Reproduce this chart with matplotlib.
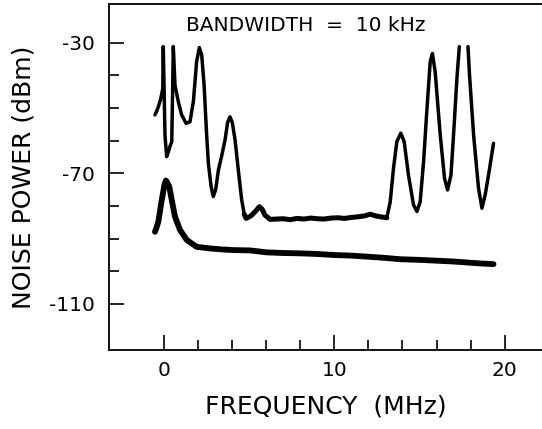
import numpy as np
import matplotlib
matplotlib.use("Agg")
import matplotlib.pyplot as plt

# Upper trace (NaN marks where the trace runs off the top of the plot)
upper_f = [-0.55, -0.45, -0.35, -0.2, -0.09, -0.06, 0.04, 0.14, 0.24, 0.35, 0.44, 0.53,
           0.63, 0.82, 1.02, 1.28, 1.51, 1.71, 1.9, 2.06, 2.2, 2.34, 2.49, 2.59, 2.75, 2.88,
           3.02, 3.18, 3.38, 3.57, 3.72, 3.86, 4.0, 4.16, 4.35, 4.55, 4.7, 4.81, 5.0, 5.14,
           5.38, 5.59, 5.75, 5.92, 6.22,
           6.6, 7.0, 7.4, 7.8, 8.2, 8.6, 9.0, 9.4, 9.8, 10.2, 10.6, 11.0, 11.4, 11.8, 12.1,
           12.4, 12.69, 13.08, 13.28, 13.47, 13.67, 13.9, 14.1, 14.35, 14.65, 14.85, 15.04,
           15.24, 15.44, 15.63, 15.76, 15.92, 16.22, 16.47, 16.65, 16.85, 17.0, 17.2, 17.34,
           np.nan,
           17.85, 17.94, 18.18, 18.47, 18.67, 18.86, 19.12, 19.35]
upper_db = [-52.1, -51.0, -49.6, -47.0, -44.0, -31.2, -58.3, -64.9, -63.4, -61.5, -60.3, -31.2,
            -43.0, -48.0, -52.1, -54.7, -54.2, -48.0, -35.8, -31.5, -33.8, -43.0, -58.3, -66.9, -74.0, -77.1,
            -75.0, -69.0, -64.5, -59.8, -54.5, -52.7, -54.5, -59.8, -69.0, -78.2, -82.5, -83.8, -83.3, -82.8,
            -81.5, -80.2, -81.0, -82.8, -84.1,
            -84.0, -83.9, -84.2, -83.8, -84.0, -83.7, -83.9, -84.0, -83.7, -83.6, -83.8, -83.5, -83.3, -83.0, -82.5,
            -83.0, -83.3, -83.6, -78.7, -68.5, -60.3, -57.7, -60.3, -70.5, -79.7, -81.7, -78.7,
            -66.4, -50.1, -35.8, -33.3, -38.9, -58.3, -71.5, -75.1, -70.5, -58.3, -40.9, -31.2,
            np.nan,
            -31.2, -39.9, -58.3, -74.6, -80.7, -76.6, -68.5, -60.8]

# Lower trace
lower_f = [-0.55, -0.45, -0.35, -0.15, 0.02, 0.1, 0.29, 0.44, 0.63, 0.92, 1.32, 1.9, 2.69,
           3.4, 4.06, 5.04, 6.02, 7.0, 7.98, 9.0, 9.94, 11.0, 11.9, 13.0, 13.86, 15.0, 15.82,
           17.0, 17.78, 18.6, 19.35]
lower_db = [-87.9, -86.5, -84.8, -78.2, -73.2, -72.2, -74.0, -78.2, -83.3, -87.3, -90.4, -92.5, -93.0,
            -93.3, -93.5, -93.6, -94.2, -94.4, -94.5, -94.7, -95.0, -95.2, -95.5, -95.9, -96.3, -96.5, -96.7,
            -97.0, -97.3, -97.6, -97.8]

xticks_major = [0, 10, 20]
xticks_minor = [2, 4, 6, 8, 12, 14, 16, 18]
yticks_major = [-30, -70, -110]
yticks_minor = [-40, -50, -60, -80, -90, -100]

fig = plt.figure(figsize=(5.42, 4.29), dpi=100)
ax = fig.add_axes([0.2011, 0.1841, 0.7989, 0.8066])

ax.plot(upper_f, upper_db, color="black", lw=2.5, solid_capstyle="round", solid_joinstyle="round")
# flat noisy floor segment of the upper trace drawn heavier, as in the original
ax.plot(upper_f[36:63], upper_db[36:63], color="black", lw=3.6, solid_capstyle="round", solid_joinstyle="round")
ax.plot(lower_f, lower_db, color="black", lw=4.2, solid_capstyle="round", solid_joinstyle="round")

ax.set_xlim(-3.25, 22.2)
ax.set_ylim(-124.1, -18.15)

ax.spines["right"].set_visible(False)
for s in ["left", "top", "bottom"]:
    ax.spines[s].set_linewidth(1.3)

ax.set_xticks(xticks_major)
ax.set_xticklabels([str(v) for v in xticks_major])
ax.set_xticks(xticks_minor, minor=True)
ax.set_yticks(yticks_major)
ax.set_yticklabels([str(v) for v in yticks_major])
ax.set_yticks(yticks_minor, minor=True)

ax.tick_params(axis="both", which="major", direction="in", length=11, width=1.2, labelsize=14.5, pad=8)
ax.tick_params(axis="both", which="minor", direction="in", length=7.5, width=1.2)
ax.tick_params(axis="y", which="major", pad=10)

ax.set_xlabel("FREQUENCY  (MHz)", fontsize=18, labelpad=10)
ax.set_ylabel("NOISE POWER (dBm)", fontsize=18, labelpad=10)

ax.text(0.455, 0.937, "BANDWIDTH  =  10 kHz", transform=ax.transAxes, ha="center", va="center", fontsize=14.5)

fig.savefig("out.png", dpi=100)
